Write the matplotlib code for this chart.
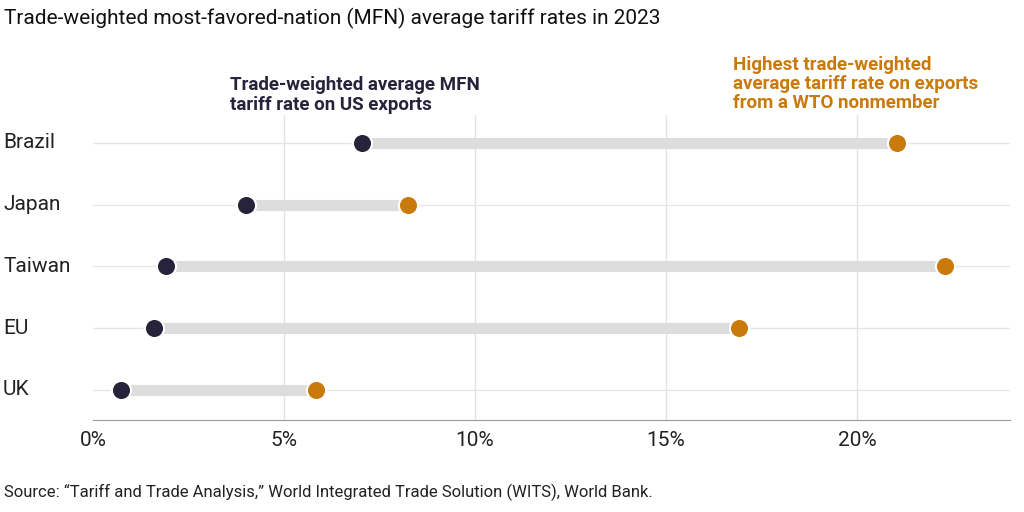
import matplotlib
matplotlib.use("Agg")
import matplotlib.pyplot as plt
import matplotlib.transforms as mtrans

countries = ["UK", "EU", "Taiwan", "Japan", "Brazil"]
us_rate = [0.73, 1.6, 1.9, 4.0, 7.05]
nonmember_rate = [5.84, 16.9, 22.3, 8.25, 21.05]
xticks = [0, 5, 10, 15, 20]

plt.rcParams['font.family'] = ['Roboto', 'DejaVu Sans']
fig = plt.figure(figsize=(10.24, 5.12), dpi=100)
ax = fig.add_axes([93/1024, 1-420/512, 917/1024, 305/512])
ax.set_xlim(0, 24)
ax.set_ylim(-0.486, 4.45)
dark = "#27233a"; orange = "#c97a0a"
for i, (a, b) in enumerate(zip(us_rate, nonmember_rate)):
    ax.axhline(i, color="#e6e6e6", lw=1, zorder=0)
    ax.plot([a, b], [i, i], color="#dddddd", lw=8, solid_capstyle="butt", zorder=1)
ax.scatter(us_rate, range(5), s=190, color=dark, edgecolor="white", linewidth=1.5, zorder=3)
ax.scatter(nonmember_rate, range(5), s=190, color=orange, edgecolor="white", linewidth=1.5, zorder=3)
for x in xticks[1:]:
    ax.axvline(x, color="#e3e3e3", lw=1, zorder=0)
ax.set_xticks(xticks)
ax.set_xticklabels([f"{x}%" for x in xticks], fontsize=15, color="#222")
ax.set_yticks([])
tr = mtrans.blended_transform_factory(fig.transFigure, ax.transData)
for i, c in enumerate(countries):
    fig.text(3/1024, i, c, fontsize=15, color="#222", va="center", ha="left", transform=tr)
for s in ax.spines.values():
    s.set_visible(False)
ax.spines['bottom'].set_visible(True); ax.spines['bottom'].set_color("#999")
ax.tick_params(axis='x', length=0, pad=8)
fig.text(4/1024, 1-18/512, "Trade-weighted most-favored-nation (MFN) average tariff rates in 2023",
         fontsize=15, va="center", color="#111")
fig.text(230/1024, 1-95/512, "Trade-weighted average MFN\ntariff rate on US exports",
         fontsize=13.5, fontweight="bold", color=dark, va="center", linespacing=1.1)
fig.text(733/1024, 1-84/512, "Highest trade-weighted\naverage tariff rate on exports\nfrom a WTO nonmember",
         fontsize=13.5, fontweight="bold", color=orange, va="center", linespacing=1.1)
fig.text(4/1024, 1-492/512, "Source: \u201cTariff and Trade Analysis,\u201d World Integrated Trade Solution (WITS), World Bank.",
         fontsize=12, va="center", color="#222")
fig.savefig("out.png", dpi=100)
